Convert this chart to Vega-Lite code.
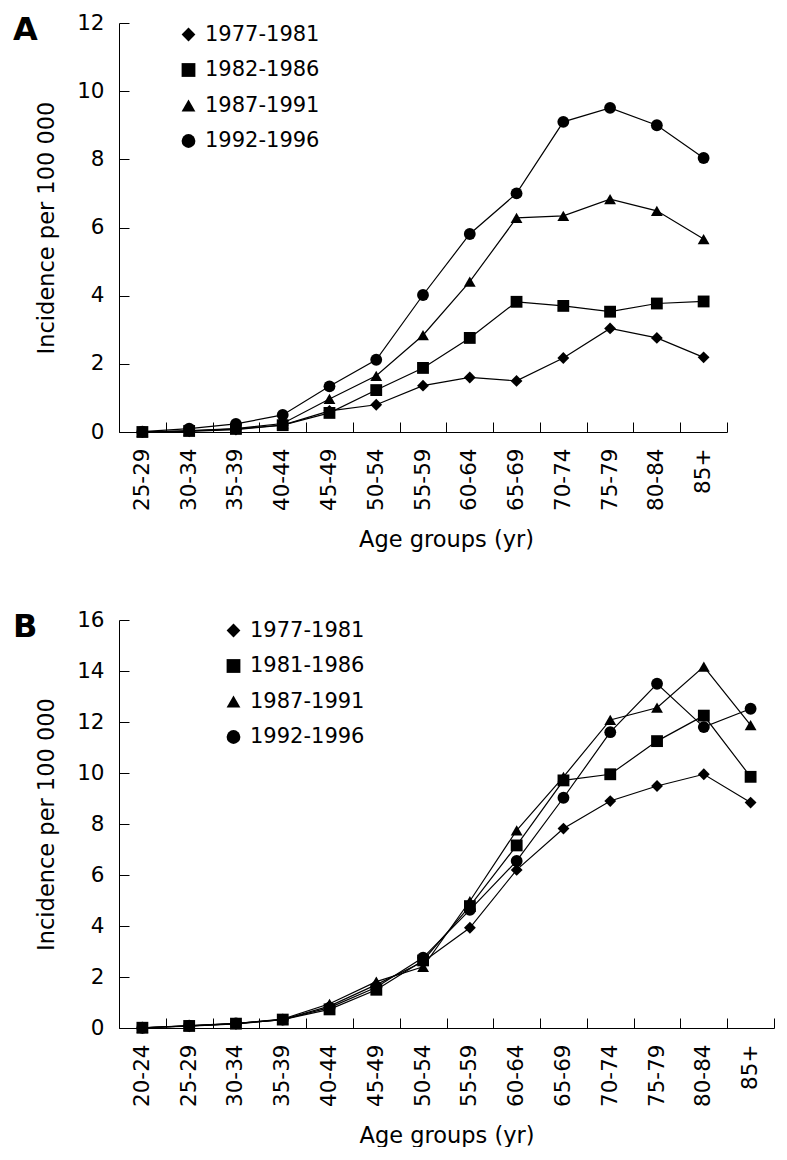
{
  "$schema": "https://vega.github.io/schema/vega-lite/v6.json",
  "background": "white",
  "padding": {"left": 13, "top": 12, "right": 5, "bottom": 0},
  "config": {
    "font": "DejaVu Sans",
    "view": {"stroke": null},
    "axis": {
      "grid": false,
      "domainColor": "black",
      "tickColor": "black",
      "labelColor": "black",
      "titleColor": "black",
      "labelFont": "DejaVu Sans",
      "titleFont": "DejaVu Sans",
      "labelFontSize": 21.5,
      "titleFontSize": 22.5,
      "titleFontWeight": "normal",
      "tickSize": -10,
      "domainWidth": 1,
      "tickWidth": 1
    },
    "axisX": {"labelAngle": -90, "labelPadding": 26, "titlePadding": 18},
    "axisY": {"labelPadding": 25, "titlePadding": 18},
    "legend": {
      "orient": "none",
      "padding": 0,
      "labelFont": "DejaVu Sans",
      "labelFontSize": 21,
      "labelColor": "black",
      "symbolSize": 190,
      "symbolFillColor": "black",
      "symbolStrokeColor": "black",
      "symbolStrokeWidth": 0,
      "rowPadding": 13.5,
      "labelOffset": 6
    },
    "title": {"font": "DejaVu Sans", "fontSize": 32, "fontWeight": "bold", "color": "black", "anchor": "start", "frame": "group", "offset": 0}
  },
  "datasets": {
    "a": [
      {"age": "25-29", "period": "1977-1981", "incidence": 0.0},
      {"age": "30-34", "period": "1977-1981", "incidence": 0.02},
      {"age": "35-39", "period": "1977-1981", "incidence": 0.07},
      {"age": "40-44", "period": "1977-1981", "incidence": 0.2},
      {"age": "45-49", "period": "1977-1981", "incidence": 0.62},
      {"age": "50-54", "period": "1977-1981", "incidence": 0.8},
      {"age": "55-59", "period": "1977-1981", "incidence": 1.36},
      {"age": "60-64", "period": "1977-1981", "incidence": 1.6},
      {"age": "65-69", "period": "1977-1981", "incidence": 1.5},
      {"age": "70-74", "period": "1977-1981", "incidence": 2.17},
      {"age": "75-79", "period": "1977-1981", "incidence": 3.04},
      {"age": "80-84", "period": "1977-1981", "incidence": 2.76},
      {"age": "85+", "period": "1977-1981", "incidence": 2.19},
      {"age": "25-29", "period": "1982-1986", "incidence": 0.0},
      {"age": "30-34", "period": "1982-1986", "incidence": 0.03},
      {"age": "35-39", "period": "1982-1986", "incidence": 0.09},
      {"age": "40-44", "period": "1982-1986", "incidence": 0.2},
      {"age": "45-49", "period": "1982-1986", "incidence": 0.56},
      {"age": "50-54", "period": "1982-1986", "incidence": 1.23},
      {"age": "55-59", "period": "1982-1986", "incidence": 1.88},
      {"age": "60-64", "period": "1982-1986", "incidence": 2.76},
      {"age": "65-69", "period": "1982-1986", "incidence": 3.82},
      {"age": "70-74", "period": "1982-1986", "incidence": 3.7},
      {"age": "75-79", "period": "1982-1986", "incidence": 3.53},
      {"age": "80-84", "period": "1982-1986", "incidence": 3.77},
      {"age": "85+", "period": "1982-1986", "incidence": 3.83},
      {"age": "25-29", "period": "1987-1991", "incidence": 0.0},
      {"age": "30-34", "period": "1987-1991", "incidence": 0.04},
      {"age": "35-39", "period": "1987-1991", "incidence": 0.1},
      {"age": "40-44", "period": "1987-1991", "incidence": 0.25},
      {"age": "45-49", "period": "1987-1991", "incidence": 0.97},
      {"age": "50-54", "period": "1987-1991", "incidence": 1.65},
      {"age": "55-59", "period": "1987-1991", "incidence": 2.84},
      {"age": "60-64", "period": "1987-1991", "incidence": 4.41},
      {"age": "65-69", "period": "1987-1991", "incidence": 6.28},
      {"age": "70-74", "period": "1987-1991", "incidence": 6.34},
      {"age": "75-79", "period": "1987-1991", "incidence": 6.83},
      {"age": "80-84", "period": "1987-1991", "incidence": 6.49},
      {"age": "85+", "period": "1987-1991", "incidence": 5.66},
      {"age": "25-29", "period": "1992-1996", "incidence": 0.01},
      {"age": "30-34", "period": "1992-1996", "incidence": 0.1},
      {"age": "35-39", "period": "1992-1996", "incidence": 0.24},
      {"age": "40-44", "period": "1992-1996", "incidence": 0.5},
      {"age": "45-49", "period": "1992-1996", "incidence": 1.34},
      {"age": "50-54", "period": "1992-1996", "incidence": 2.12},
      {"age": "55-59", "period": "1992-1996", "incidence": 4.02},
      {"age": "60-64", "period": "1992-1996", "incidence": 5.81},
      {"age": "65-69", "period": "1992-1996", "incidence": 7.0},
      {"age": "70-74", "period": "1992-1996", "incidence": 9.1},
      {"age": "75-79", "period": "1992-1996", "incidence": 9.51},
      {"age": "80-84", "period": "1992-1996", "incidence": 9.0},
      {"age": "85+", "period": "1992-1996", "incidence": 8.04}
    ],
    "b": [
      {"age": "20-24", "period": "1977-1981", "incidence": 0.01},
      {"age": "25-29", "period": "1977-1981", "incidence": 0.07},
      {"age": "30-34", "period": "1977-1981", "incidence": 0.16},
      {"age": "35-39", "period": "1977-1981", "incidence": 0.33},
      {"age": "40-44", "period": "1977-1981", "incidence": 0.86},
      {"age": "45-49", "period": "1977-1981", "incidence": 1.7},
      {"age": "50-54", "period": "1977-1981", "incidence": 2.6},
      {"age": "55-59", "period": "1977-1981", "incidence": 3.93},
      {"age": "60-64", "period": "1977-1981", "incidence": 6.2},
      {"age": "65-69", "period": "1977-1981", "incidence": 7.82},
      {"age": "70-74", "period": "1977-1981", "incidence": 8.9},
      {"age": "75-79", "period": "1977-1981", "incidence": 9.49},
      {"age": "80-84", "period": "1977-1981", "incidence": 9.95},
      {"age": "85+", "period": "1977-1981", "incidence": 8.84},
      {"age": "20-24", "period": "1981-1986", "incidence": 0.01},
      {"age": "25-29", "period": "1981-1986", "incidence": 0.08},
      {"age": "30-34", "period": "1981-1986", "incidence": 0.17},
      {"age": "35-39", "period": "1981-1986", "incidence": 0.33},
      {"age": "40-44", "period": "1981-1986", "incidence": 0.73},
      {"age": "45-49", "period": "1981-1986", "incidence": 1.5},
      {"age": "50-54", "period": "1981-1986", "incidence": 2.65},
      {"age": "55-59", "period": "1981-1986", "incidence": 4.78},
      {"age": "60-64", "period": "1981-1986", "incidence": 7.16},
      {"age": "65-69", "period": "1981-1986", "incidence": 9.71},
      {"age": "70-74", "period": "1981-1986", "incidence": 9.95},
      {"age": "75-79", "period": "1981-1986", "incidence": 11.25},
      {"age": "80-84", "period": "1981-1986", "incidence": 12.25},
      {"age": "85+", "period": "1981-1986", "incidence": 9.85},
      {"age": "20-24", "period": "1987-1991", "incidence": 0.01},
      {"age": "25-29", "period": "1987-1991", "incidence": 0.08},
      {"age": "30-34", "period": "1987-1991", "incidence": 0.17},
      {"age": "35-39", "period": "1987-1991", "incidence": 0.35},
      {"age": "40-44", "period": "1987-1991", "incidence": 0.95},
      {"age": "45-49", "period": "1987-1991", "incidence": 1.82},
      {"age": "50-54", "period": "1987-1991", "incidence": 2.4},
      {"age": "55-59", "period": "1987-1991", "incidence": 4.98},
      {"age": "60-64", "period": "1987-1991", "incidence": 7.75},
      {"age": "65-69", "period": "1987-1991", "incidence": 9.85},
      {"age": "70-74", "period": "1987-1991", "incidence": 12.08},
      {"age": "75-79", "period": "1987-1991", "incidence": 12.56},
      {"age": "80-84", "period": "1987-1991", "incidence": 14.17},
      {"age": "85+", "period": "1987-1991", "incidence": 11.88},
      {"age": "20-24", "period": "1992-1996", "incidence": 0.01},
      {"age": "25-29", "period": "1992-1996", "incidence": 0.09},
      {"age": "30-34", "period": "1992-1996", "incidence": 0.18},
      {"age": "35-39", "period": "1992-1996", "incidence": 0.33},
      {"age": "40-44", "period": "1992-1996", "incidence": 0.8},
      {"age": "45-49", "period": "1992-1996", "incidence": 1.6},
      {"age": "50-54", "period": "1992-1996", "incidence": 2.76},
      {"age": "55-59", "period": "1992-1996", "incidence": 4.63},
      {"age": "60-64", "period": "1992-1996", "incidence": 6.55},
      {"age": "65-69", "period": "1992-1996", "incidence": 9.03},
      {"age": "70-74", "period": "1992-1996", "incidence": 11.6},
      {"age": "75-79", "period": "1992-1996", "incidence": 13.5},
      {"age": "80-84", "period": "1992-1996", "incidence": 11.8},
      {"age": "85+", "period": "1992-1996", "incidence": 12.52}
    ]
  },
  "spacing": 58,
  "resolve": {"scale": {"x": "independent", "y": "independent", "shape": "independent"}, "legend": {"shape": "independent"}},
  "vconcat": [
    {
      "width": 608,
      "height": 409,
      "title": {"text": "A", "dx": -106, "dy": 39},
      "data": {"name": "a"},
      "encoding": {
        "x": {"field": "age", "type": "ordinal", "sort": null, "bandPosition": 0.5,
              "scale": {"type": "band", "paddingInner": 0, "paddingOuter": 0},
              "axis": {"title": "Age groups (yr)", "tickBand": "extent", "titleX": 327}},
        "y": {"field": "incidence", "type": "quantitative",
              "scale": {"domain": [0, 12], "nice": false},
              "axis": {"title": "Incidence per 100 000", "values": [0, 2, 4, 6, 8, 10, 12]}}
      },
      "layer": [
        {"mark": {"type": "line", "color": "black", "strokeWidth": 1.2},
         "encoding": {"detail": {"field": "period", "type": "nominal"}}},
        {"mark": {"type": "point", "filled": true, "color": "black", "opacity": 1, "size": 140},
         "encoding": {
           "shape": {"field": "period", "type": "nominal", "sort": null,
            "scale": {"domain": ["1977-1981", "1982-1986", "1987-1991", "1992-1996"], "range": ["diamond", "square", "triangle-up", "circle"]},
            "legend": {"title": null, "legendX": 59, "legendY": 1}}}}
      ]
    },
    {
      "width": 655,
      "height": 408,
      "title": {"text": "B", "dx": -106, "dy": 39},
      "data": {"name": "b"},
      "encoding": {
        "x": {"field": "age", "type": "ordinal", "sort": null, "bandPosition": 0.5,
              "scale": {"type": "band", "paddingInner": 0, "paddingOuter": 0},
              "axis": {"title": "Age groups (yr)", "tickBand": "extent"}},
        "y": {"field": "incidence", "type": "quantitative",
              "scale": {"domain": [0, 16], "nice": false},
              "axis": {"title": "Incidence per 100 000", "values": [0, 2, 4, 6, 8, 10, 12, 14, 16]}}
      },
      "layer": [
        {"mark": {"type": "line", "color": "black", "strokeWidth": 1.2},
         "encoding": {"detail": {"field": "period", "type": "nominal"}}},
        {"mark": {"type": "point", "filled": true, "color": "black", "opacity": 1, "size": 140},
         "encoding": {
           "shape": {"field": "period", "type": "nominal", "sort": null,
            "scale": {"domain": ["1977-1981", "1981-1986", "1987-1991", "1992-1996"], "range": ["diamond", "square", "triangle-up", "circle"]},
            "legend": {"title": null, "legendX": 104, "legendY": 0}}}}
      ]
    }
  ]
}
